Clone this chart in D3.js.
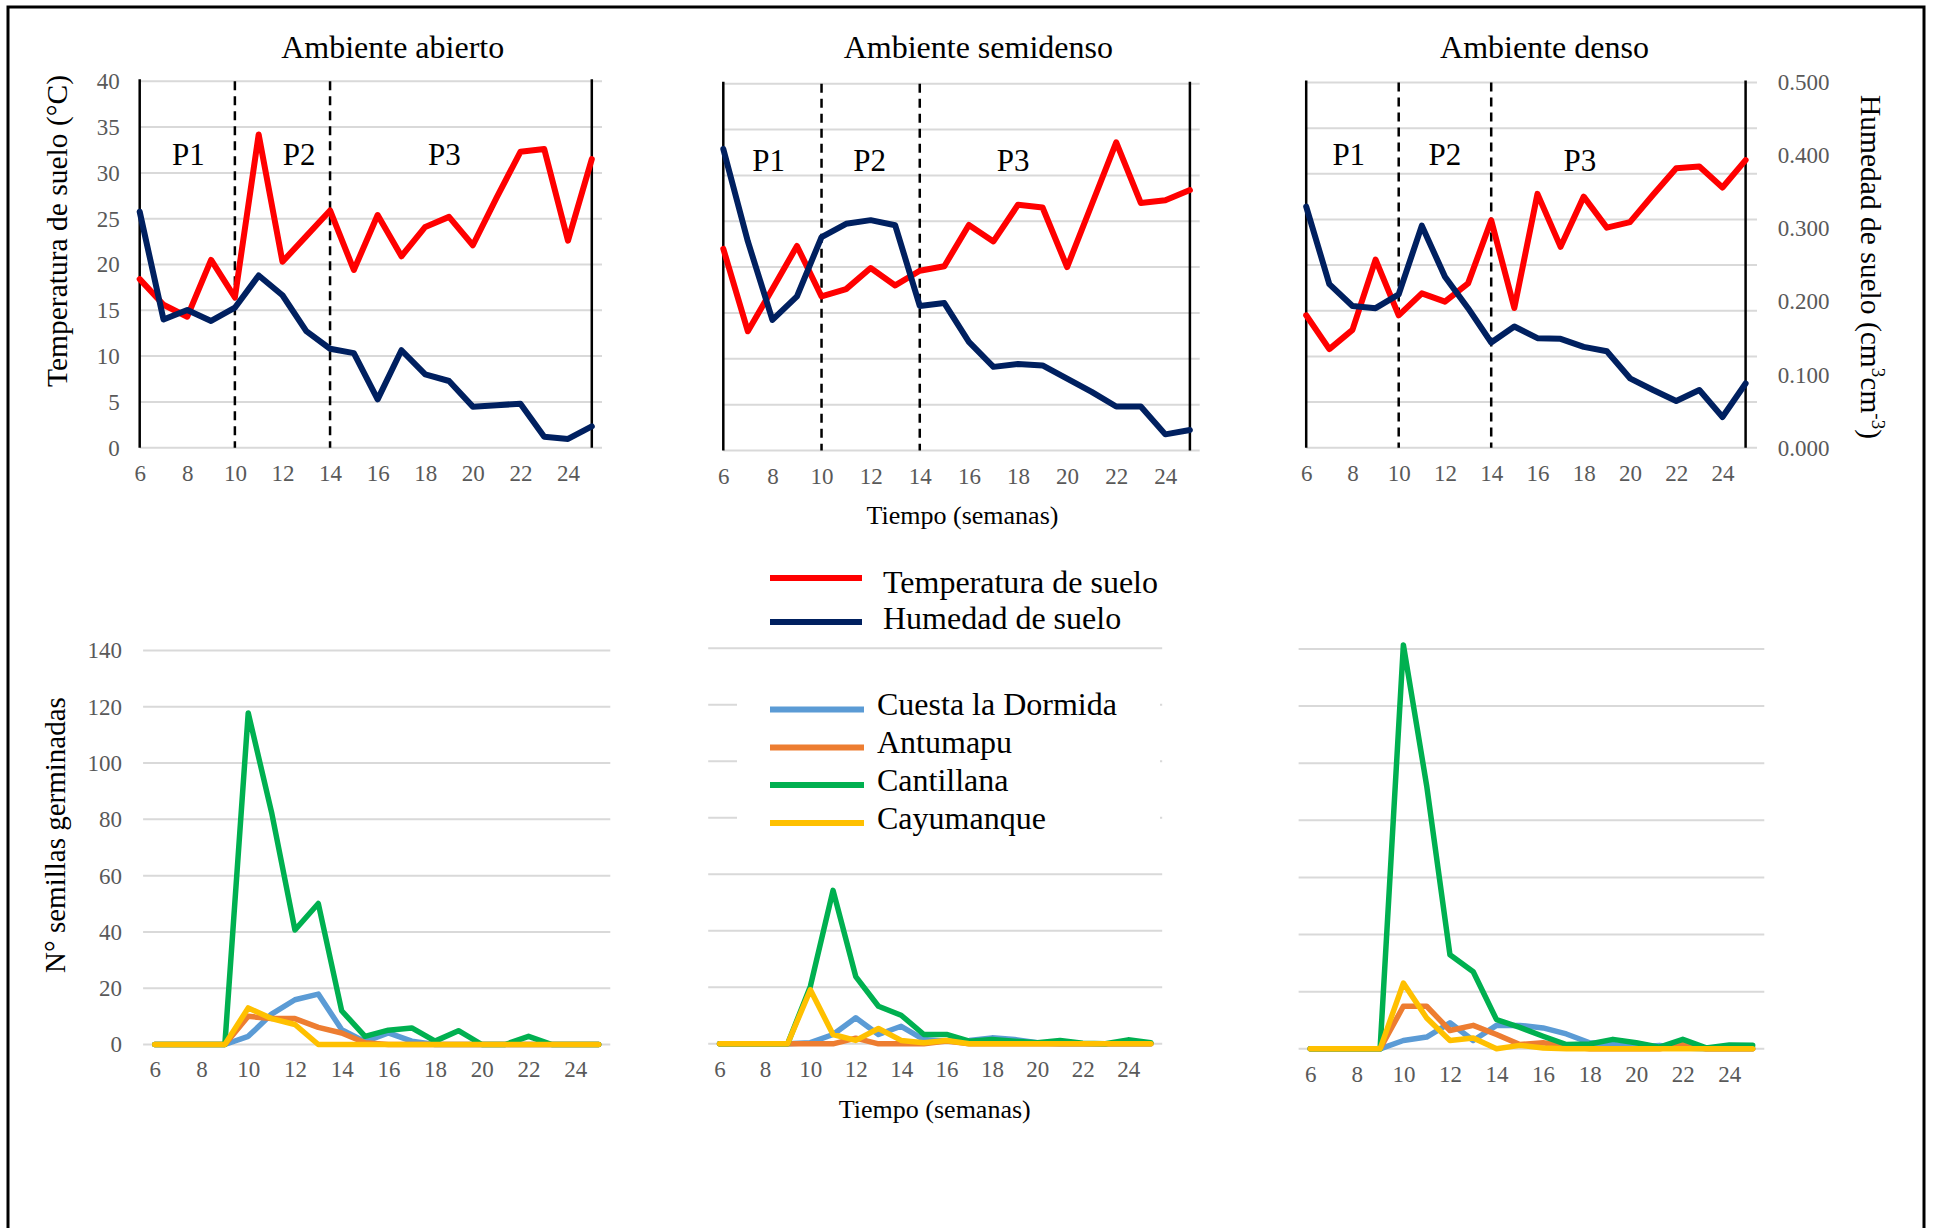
<!DOCTYPE html>
<html>
<head>
<meta charset="utf-8">
<script src="https://cdn.jsdelivr.net/npm/d3@7"></script>
<style>
  html, body { margin: 0; padding: 0; background: #fff; }
  svg { display: block; }
  text { font-family: "Liberation Serif", "Times New Roman", serif; }
</style>
</head>
<body>
<svg id="chart" width="1933" height="1228"></svg>
<script>
// ---------------- DATA ----------------
const weeks = [6,7,8,9,10,11,12,13,14,15,16,17,18,19,20,21,22,23,24,25];
const xTickValues = [6,8,10,12,14,16,18,20,22,24];
const tempTicks = [0,5,10,15,20,25,30,35,40];
const humTicks = [0,0.1,0.2,0.3,0.4,0.5];
const germTicks = [0,20,40,60,80,100,120,140];
const periodBounds = [10,14];
const periodNames = ["P1","P2","P3"];

const panelTitles = ["Ambiente abierto","Ambiente semidenso","Ambiente denso"];
const climateNames = ["Temperatura de suelo","Humedad de suelo"];
const popNames = ["Cuesta la Dormida","Antumapu","Cantillana","Cayumanque"];

// Soil temperature (°C)
const tempAbierto   = [18.4,15.6,14.3,20.5,16.4,34.2,20.3,23.1,25.9,19.4,25.4,20.9,24.1,25.2,22.1,27.3,32.3,32.6,22.6,31.5];
const tempSemidenso = [22.0,13.0,17.6,22.3,16.8,17.6,19.9,18.0,19.6,20.1,24.6,22.8,26.8,26.5,20.0,26.8,33.6,27.0,27.3,28.4];
const tempDenso     = [14.5,10.8,12.9,20.6,14.5,16.9,16.0,18.0,24.9,15.3,27.8,22.0,27.5,24.1,24.7,27.7,30.6,30.8,28.5,31.5];
// Soil moisture (cm3 cm-3)
const humAbierto   = [0.322,0.175,0.188,0.173,0.191,0.235,0.208,0.159,0.135,0.129,0.066,0.133,0.100,0.091,0.056,0.058,0.060,0.015,0.012,0.029];
const humSemidenso = [0.411,0.285,0.178,0.210,0.291,0.309,0.314,0.307,0.197,0.201,0.148,0.114,0.118,0.116,0.098,0.080,0.060,0.060,0.022,0.028];
const humDenso     = [0.330,0.224,0.194,0.191,0.210,0.304,0.234,0.191,0.144,0.166,0.150,0.149,0.138,0.132,0.095,0.079,0.064,0.079,0.042,0.088];

// Germinated seeds
const cuestaAbierto     = [0,0,0,0,2.9,10.8,15.9,17.9,5.3,1.0,4.1,1.2,0,0,0,0,0,0,0,0];
const antumapuAbierto   = [0,0,0,0,10.0,9.2,9.2,6.1,4.1,0.6,0,0,0,0,0,0,0,0,0,0];
const cantillanaAbierto = [0,0,0,0,117.8,82.5,40.7,50.1,12.0,2.9,5.1,5.9,1.2,4.9,0,0,2.9,0,0,0];
const cayumanqueAbierto = [0,0,0,0,13.0,9.2,7.1,0,0,0,0,0,0,0,0,0,0,0,0,0];

const cuestaSemi     = [0,0,0,0,0.4,3.3,9.2,3.3,6.2,1.5,0.9,1.2,2.1,1.5,0.4,0,0,0,0,0];
const antumapuSemi   = [0,0,0,0,0,0,2.0,0,0,0,1.0,0,0,0,0,0,0,0,0,0];
const cantillanaSemi = [0,0,0,0,20.3,54.3,23.8,13.3,10.1,3.3,3.3,0.9,1.5,0.9,0.4,1.2,0.2,0,1.4,0.4];
const cayumanqueSemi = [0,0,0,0,19.1,3.3,1.2,5.4,1.2,0.4,1.2,0,0,0,0,0,0,0,0,0];

const cuestaDenso     = [0,0,0,0,2.9,4.1,9.1,2.9,8.2,8.2,7.3,5.2,2.1,1.5,0.6,1.2,0.3,0,0,0];
const antumapuDenso   = [0,0,0,0,14.9,14.9,6.4,8.2,5.0,1.5,2.1,0.9,0,0,0,0,1.5,0,0,0];
const cantillanaDenso = [0,0,0,0,141.4,92.1,32.9,27.0,10.2,7.5,4.4,1.5,1.7,3.3,2.1,0.6,3.3,0.3,1.3,1.2];
const cayumanqueDenso = [0,0,0,0,23.0,10.8,2.9,3.8,0,1.2,0.3,0,0,0,0,0,0,0,0,0];

// ---------------- STYLE / LAYOUT ----------------
const FONT = '"Liberation Serif", "Times New Roman", serif';
const tickColor = "#595959";
const gridColor = "#d9d9d9";
const climateColors = ["#ff0000","#002060"];
const popColors = ["#5b9bd5","#ed7d31","#00b050","#ffc000"];

const topPanels = [
  {temp: tempAbierto,   hum: humAbierto,   x0:139.7, x1:591.8, gridEnd:602, yB:447.7, yT:81.3, titleX:392.7,
   pX:[8.05,12.7,18.8], pY:[165,165,165], leftTicks:true, rightTicks:false},
  {temp: tempSemidenso, hum: humSemidenso, x0:723.3, x1:1189.9, gridEnd:1199.7, yB:450.5, yT:83.7, titleX:978.3,
   pX:[7.85,11.96,17.8], pY:[171,171,171], leftTicks:false, rightTicks:false},
  {temp: tempDenso,     hum: humDenso,     x0:1306.2, x1:1745.6, gridEnd:1757, yB:447.7, yT:82.5, titleX:1544.5,
   pX:[7.84,12.0,17.83], pY:[165,165,171], leftTicks:false, rightTicks:true}
];

const bottomPanels = [
  {series:[cuestaAbierto,antumapuAbierto,cantillanaAbierto,cayumanqueAbierto], gx0:143.1, gx1:610.3, yB:1044.5, yT:650.5, leftTicks:true},
  {series:[cuestaSemi,antumapuSemi,cantillanaSemi,cayumanqueSemi], gx0:708.2, gx1:1162.2, yB:1043.8, yT:648.2, leftTicks:false},
  {series:[cuestaDenso,antumapuDenso,cantillanaDenso,cayumanqueDenso], gx0:1298.6, gx1:1764.3, yB:1048.8, yT:648.9, leftTicks:false}
];

const svg = d3.select("#chart");

function styleTicks(sel) {
  sel.selectAll("text")
    .style("font-family", FONT).style("font-size", "23px").style("fill", tickColor);
}

// outer frame
svg.append("rect").attr("x",8).attr("y",7).attr("width",1916).attr("height",1400)
  .attr("fill","none").attr("stroke","#000").attr("stroke-width",3);

// ---------------- TOP ROW ----------------
topPanels.forEach((p, i) => {
  const g = svg.append("g");
  const x = d3.scaleLinear().domain([6,25]).range([p.x0, p.x1]);
  const yT = d3.scaleLinear().domain([0,40]).range([p.yB, p.yT]);
  const yH = d3.scaleLinear().domain([0,0.5]).range([p.yB, p.yT]);

  g.selectAll(".grid").data(tempTicks).join("line")
    .attr("x1", p.x0).attr("x2", p.gridEnd)
    .attr("y1", d => yT(d)).attr("y2", d => yT(d))
    .attr("stroke", gridColor).attr("stroke-width", 2);

  if (p.leftTicks) {
    const ax = d3.axisLeft(yT).tickValues(tempTicks).tickSize(0).tickPadding(0);
    const a = g.append("g").attr("transform", `translate(${p.x0-20},0)`).call(ax);
    a.select(".domain").remove();
    styleTicks(a);
  }
  if (p.rightTicks) {
    const ax = d3.axisRight(yH).tickValues(humTicks).tickSize(0).tickPadding(0).tickFormat(d3.format(".3f"));
    const a = g.append("g").attr("transform", `translate(1777.7,0)`).call(ax);
    a.select(".domain").remove();
    styleTicks(a);
  }

  const axB = d3.axisBottom(x).tickValues(xTickValues).tickSize(0).tickPadding(0).tickFormat(d3.format("d"));
  const b = g.append("g").attr("transform", `translate(0,${p.yB + 17})`).call(axB);
  b.select(".domain").remove();
  styleTicks(b);

  [6,25].forEach(w => {
    g.append("line").attr("x1", x(w)).attr("x2", x(w))
      .attr("y1", p.yT - 2).attr("y2", p.yB)
      .attr("stroke", "#000").attr("stroke-width", 2.5);
  });
  periodBounds.forEach(w => {
    g.append("line").attr("x1", x(w)).attr("x2", x(w))
      .attr("y1", p.yT).attr("y2", p.yB)
      .attr("stroke", "#000").attr("stroke-width", 2.5).attr("stroke-dasharray", "9,6");
  });

  periodNames.forEach((n, k) => {
    g.append("text").attr("x", x(p.pX[k])).attr("y", p.pY[k])
      .attr("text-anchor", "middle").style("font-size", "31px")
      .attr("fill", "#000").text(n);
  });

  const lineT = d3.line().x((d, j) => x(weeks[j])).y(d => yT(d));
  const lineH = d3.line().x((d, j) => x(weeks[j])).y(d => yH(d));
  g.append("path").attr("d", lineT(p.temp)).attr("fill", "none")
    .attr("stroke", climateColors[0]).attr("stroke-width", 6)
    .attr("stroke-linejoin", "round").attr("stroke-linecap", "round");
  g.append("path").attr("d", lineH(p.hum)).attr("fill", "none")
    .attr("stroke", climateColors[1]).attr("stroke-width", 6)
    .attr("stroke-linejoin", "round").attr("stroke-linecap", "round");

  g.append("text").attr("x", p.titleX).attr("y", 58).attr("text-anchor", "middle")
    .style("font-size", "32px").attr("fill", "#000").text(panelTitles[i]);
});

svg.append("text").attr("transform", "translate(67,231) rotate(-90)")
  .attr("text-anchor", "middle").style("font-size", "29.5px").attr("fill", "#000")
  .text("Temperatura de suelo (°C)");

const hl = svg.append("text").attr("transform", "translate(1861,267) rotate(90)")
  .attr("text-anchor", "middle").style("font-size", "29.5px").attr("fill", "#000");
hl.append("tspan").text("Humedad de suelo (cm");
hl.append("tspan").attr("dy", -11).style("font-size", "19px").text("3");
hl.append("tspan").attr("dy", 11).text("cm");
hl.append("tspan").attr("dy", -11).style("font-size", "19px").text("-3");
hl.append("tspan").attr("dy", 11).text(")");

svg.append("text").attr("x", 962.5).attr("y", 524).attr("text-anchor", "middle")
  .style("font-size", "26px").attr("fill", "#000").text("Tiempo (semanas)");

// ---------------- BOTTOM ROW ----------------
bottomPanels.forEach((p, i) => {
  const g = svg.append("g");
  const x = d3.scalePoint().domain(weeks).range([p.gx0, p.gx1]).padding(0.5);
  const y = d3.scaleLinear().domain([0,140]).range([p.yB, p.yT]);

  g.selectAll(".grid").data(germTicks).join("line")
    .attr("x1", p.gx0).attr("x2", p.gx1)
    .attr("y1", d => y(d)).attr("y2", d => y(d))
    .attr("stroke", gridColor).attr("stroke-width", 2);

  if (p.leftTicks) {
    const ax = d3.axisLeft(y).tickValues(germTicks).tickSize(0).tickPadding(0);
    const a = g.append("g").attr("transform", `translate(122,0)`).call(ax);
    a.select(".domain").remove();
    styleTicks(a);
  }

  const axB = d3.axisBottom(x).tickValues(xTickValues).tickSize(0).tickPadding(0);
  const b = g.append("g").attr("transform", `translate(0,${p.yB + 16.5})`).call(axB);
  b.select(".domain").remove();
  styleTicks(b);

  const line = d3.line().x((d, j) => x(weeks[j])).y(d => y(d));
  p.series.forEach((s, k) => {
    g.append("path").attr("d", line(s)).attr("fill", "none")
      .attr("stroke", popColors[k]).attr("stroke-width", 5.5)
      .attr("stroke-linejoin", "round").attr("stroke-linecap", "round");
  });
});

svg.append("text").attr("transform", "translate(65,835) rotate(-90)")
  .attr("text-anchor", "middle").style("font-size", "29px").attr("fill", "#000")
  .text("N° semillas germinadas");

svg.append("text").attr("x", 934.8).attr("y", 1118).attr("text-anchor", "middle")
  .style("font-size", "26px").attr("fill", "#000").text("Tiempo (semanas)");

// ---------------- LEGENDS ----------------
const leg1 = svg.append("g");
const leg1Y = [578, 622];
const leg1TextY = [593, 629];
climateNames.forEach((n, k) => {
  leg1.append("line").attr("x1", 770).attr("x2", 862).attr("y1", leg1Y[k]).attr("y2", leg1Y[k])
    .attr("stroke", climateColors[k]).attr("stroke-width", 6);
  leg1.append("text").attr("x", 883).attr("y", leg1TextY[k])
    .style("font-size", "32px").attr("fill", "#000").text(n);
});

const leg2 = svg.append("g");
leg2.append("rect").attr("x", 737).attr("y", 680).attr("width", 423).attr("height", 180).attr("fill", "#fff");
const leg2Y = [709.5, 747.6, 785, 823];
popNames.forEach((n, k) => {
  leg2.append("line").attr("x1", 770).attr("x2", 864).attr("y1", leg2Y[k]).attr("y2", leg2Y[k])
    .attr("stroke", popColors[k]).attr("stroke-width", 6);
  leg2.append("text").attr("x", 877).attr("y", leg2Y[k] + 5.5)
    .style("font-size", "32px").attr("fill", "#000").text(n);
});
</script>
</body>
</html>
